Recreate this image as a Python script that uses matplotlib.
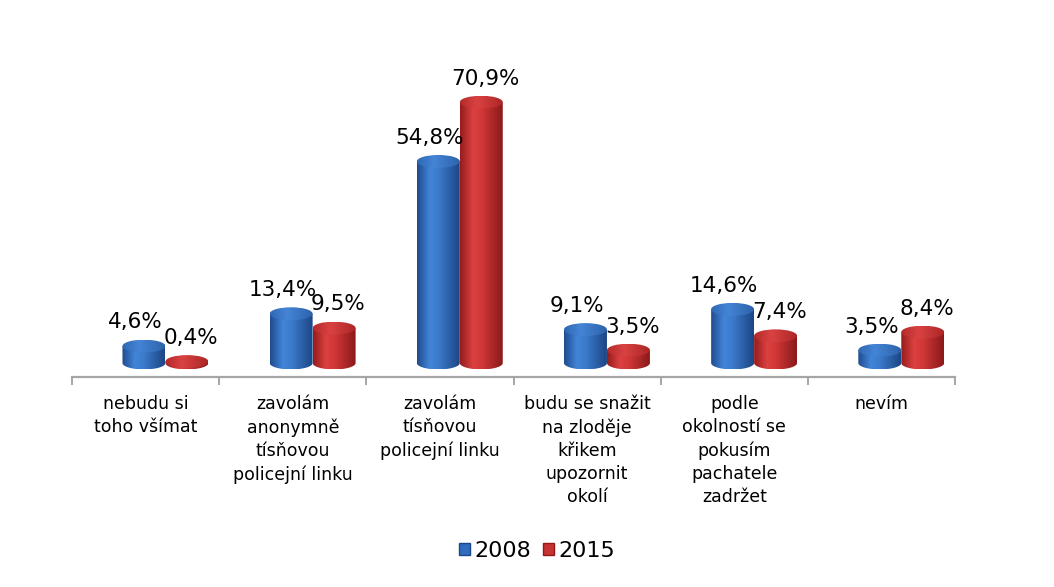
import matplotlib
matplotlib.use('Agg')
import matplotlib.pyplot as plt
import numpy as np
from matplotlib.patches import Polygon, Ellipse, Patch
from matplotlib.colors import LinearSegmentedColormap

plt.rcParams['font.family'] = ['DejaVu Sans']

# dados
kategorie = ["nebudu si\ntoho všímat",
             "zavolám\nanonymně\ntísňovou\npolicejní linku",
             "zavolám\ntísňovou\npolicejní linku",
             "budu se snažit\nna zloděje\nkřikem\nupozornit\nokolí",
             "podle\nokolností se\npokusím\npachatele\nzadržet",
             "nevím"]
hodnoty_2008 = [4.6, 13.4, 54.8, 9.1, 14.6, 3.5]
hodnoty_2015 = [0.4, 9.5, 70.9, 3.5, 7.4, 8.4]
roky = ["2008", "2015"]

# cores (gradiente horizontal do cilindro)
modre = LinearSegmentedColormap.from_list('modre', [(0, '#1f4b8e'), (0.3, '#4285d8'), (0.5, '#3c7bcc'), (1, '#1c4584')])
cervene = LinearSegmentedColormap.from_list('cervene', [(0, '#931c1c'), (0.3, '#dc4040'), (0.5, '#d23838'), (1, '#8a1919')])
vrch_modre = LinearSegmentedColormap.from_list('vm', [(0, '#2f68b4'), (0.4, '#4585d6'), (1, '#2c62aa')])
vrch_cervene = LinearSegmentedColormap.from_list('vc', [(0, '#b42a2a'), (0.4, '#da4242'), (1, '#ac2626')])

sirka = 0.292
elipsa = 3.5
posun = [-0.011, 0.281]

fig = plt.figure(figsize=(10.54, 5.87), dpi=100)
ax = fig.add_axes([72/1054, 1 - 377/587, 883/1054, 337/587])

grad = np.linspace(0, 1, 256).reshape(1, -1)


def valec(ax, xc, v, cmap, cmap_top, z):
    x0, x1 = xc - sirka/2, xc + sirka/2
    t = np.linspace(np.pi, 2*np.pi, 60)
    spodek = np.c_[xc + sirka/2*np.cos(t), elipsa/2*np.sin(t)]
    verts = np.vstack([[x0, v], spodek, [x1, v]])
    telo = Polygon(verts, closed=True, facecolor='none', edgecolor='none')
    ax.add_patch(telo)
    im = ax.imshow(grad, extent=[x0, x1, -elipsa/2, v], aspect='auto', cmap=cmap,
                   origin='lower', zorder=z, interpolation='bilinear')
    im.set_clip_path(telo)
    vrch = Ellipse((xc, v), sirka, elipsa, facecolor='none', edgecolor='none')
    ax.add_patch(vrch)
    im2 = ax.imshow(grad, extent=[x0, x1, v - elipsa/2, v + elipsa/2], aspect='auto',
                    cmap=cmap_top, origin='lower', zorder=z + 0.5, interpolation='bilinear')
    im2.set_clip_path(vrch)


x = np.arange(len(kategorie))
for i in x:
    valec(ax, i + posun[0], hodnoty_2008[i], modre, vrch_modre, 2)
    valec(ax, i + posun[1], hodnoty_2015[i], cervene, vrch_cervene, 3)
    ax.annotate(f"{hodnoty_2008[i]:.1f}".replace('.', ',') + '%', (i + posun[0], hodnoty_2008[i]),
                xytext=(-6, 17), textcoords='offset points', ha='center', va='center', fontsize=15.5)
    ax.annotate(f"{hodnoty_2015[i]:.1f}".replace('.', ',') + '%', (i + posun[1], hodnoty_2015[i]),
                xytext=(3, 17), textcoords='offset points', ha='center', va='center', fontsize=15.5)

ax.set_xlim(-0.5, len(kategorie) - 0.5)
ax.set_ylim(-3.8, 87.8)

for s in ['top', 'right', 'left']:
    ax.spines[s].set_visible(False)
ax.spines['bottom'].set_color('#a6a6a6')
ax.spines['bottom'].set_linewidth(1.6)
ax.set_yticks([])

ax.set_xticks(np.arange(-0.5, len(kategorie)))
ax.set_xticklabels([])
ax.tick_params(axis='x', which='major', length=6, width=1.4, color='#a6a6a6')
ax.set_xticks(x, minor=True)
ax.set_xticklabels(kategorie, minor=True, fontsize=12.5, linespacing=1.37)
ax.tick_params(axis='x', which='minor', length=0, pad=13)

ruce = [Patch(facecolor='#2f6bbf', edgecolor='#1d4788'),
        Patch(facecolor='#c83232', edgecolor='#8e1a1a')]
fig.legend(ruce, roky, loc='center', bbox_to_anchor=(537/1054, 1 - 551/587), ncol=2,
           frameon=False, fontsize=16, handlelength=0.5, handleheight=0.5,
           handletextpad=0.2, columnspacing=0.5)

plt.savefig('out.png', dpi=100)
